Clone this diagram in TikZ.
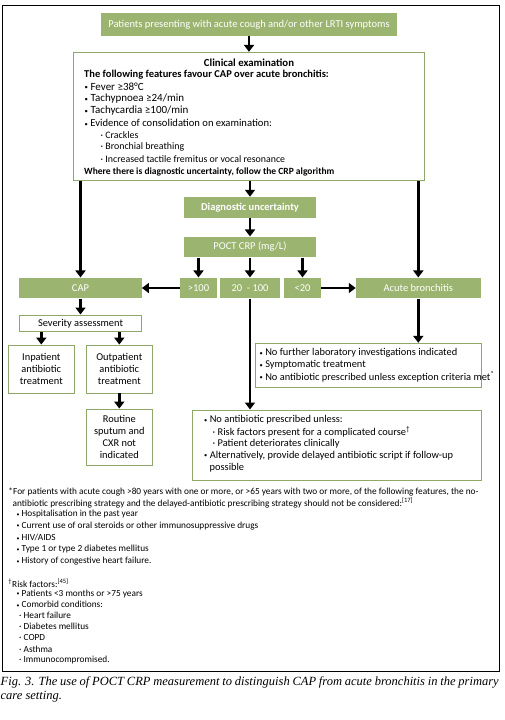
\documentclass[tikz,border=0pt]{standalone}
\usepackage{fontspec}
\setmainfont{Carlito}
\newfontfamily\capfont{Liberation Serif}
\usetikzlibrary{arrows.meta}
\definecolor{gr}{HTML}{9BB46F}
\definecolor{grb}{HTML}{8FA86A}
\newcommand{\bul}{\raisebox{0.12ex}{\scalebox{0.62}{•}}}
\newcommand{\fs}[1]{\fontsize{#1}{12.1}\selectfont}
\tikzset{
  gbox/.style={fill=gr, draw=none, text=white, inner sep=0pt, font=\fs{10.5}},
  obox/.style={draw=grb, line width=0.9pt, fill=white, inner sep=0pt, align=center, font=\fs{10.4}},
  arr/.style={line width=2.6pt, -{Triangle[width=10pt,length=7pt]}},
  txt/.style={anchor=west, inner sep=0pt, font=\fs{10.4}},
  ftxt/.style={anchor=west, inner sep=0pt, font=\fs{9.3}},
}
\begin{document}
\begin{tikzpicture}[x=1pt,y=-1pt]
\useasboundingbox (0,0) rectangle (504,720);
% outer frame
\draw[line width=0.9pt] (2.5,5) rectangle (499.5,671);

% boxes
\node[gbox, minimum width=296pt, minimum height=23.3pt] (start) at (249,24.3) {Patients presenting with acute cough and/or other LRTI symptoms};
\node[obox, minimum width=351pt, minimum height=128.4pt] (clin) at (249,116.5) {};
\node[gbox, font=\fs{10.5}\bfseries, minimum width=132pt, minimum height=20.7pt] (diag) at (250,207.3) {Diagnostic uncertainty};
\node[gbox, minimum width=132pt, minimum height=20.7pt] (poct) at (250,247) {POCT CRP (mg/L)};
\node[gbox, minimum width=122.4pt, minimum height=20.7pt] (cap) at (80.5,288) {CAP};
\node[gbox, minimum width=36.4pt, minimum height=20.7pt] (gt) at (198.5,288) {>100};
\node[gbox, minimum width=60pt, minimum height=20.7pt] (mid) at (250,288) {20 ~- 100};
\node[gbox, minimum width=37pt, minimum height=20.7pt] (lt) at (302.5,288) {<20};
\node[gbox, minimum width=124.7pt, minimum height=20.7pt] (acute) at (418.3,288) {Acute bronchitis};
\node[obox, minimum width=122.4pt, minimum height=16.7pt] (sev) at (80.5,323.3) {Severity assessment};
\node[obox, minimum width=66pt, minimum height=48pt] (inp) at (41.3,369) {Inpatient\\antibiotic\\treatment};
\node[obox, minimum width=66.7pt, minimum height=48pt] (outp) at (119.3,369) {Outpatient\\antibiotic\\treatment};
\node[obox, minimum width=66.7pt, minimum height=56pt] (rout) at (119.3,437) {Routine\\sputum and\\CXR not\\indicated};
\node[obox, minimum width=226.7pt, minimum height=44pt] (rb) at (368.3,365.3) {};
\node[obox, minimum width=289.4pt, minimum height=70.7pt] (low) at (337,445.3) {};

% clinical text
\node[inner sep=0pt, font=\fs{10.8}\bfseries] (t0) at (249,62.5) {Clinical examination};
\node[txt, font=\fs{10.5}\bfseries] (t1) at (84,74.7) {The following features favour CAP over acute bronchitis:};
\node[txt, font=\fs{11}] (t2) at (84.5,86.8) {\bul\ Fever ≥38°C};
\node[txt, font=\fs{11}] (t3) at (84.5,98.9) {\bul\ Tachypnoea ≥24/min};
\node[txt, font=\fs{11}] (t4) at (84.5,111) {\bul\ Tachycardia ≥100/min};
\node[txt, font=\fs{10.6}] (t5) at (84.5,123.1) {\bul\ Evidence of consolidation on examination:};
\node[txt, font=\fs{9.9}] (t6) at (100.5,135.2) {· Crackles};
\node[txt, font=\fs{9.9}] (t7) at (100.5,147.3) {· Bronchial breathing};
\node[txt, font=\fs{9.9}] (t8) at (100.5,159.4) {· Increased tactile fremitus or vocal resonance};
\node[txt, font=\fs{9.5}\bfseries] (t9) at (84,171.5) {Where there is diagnostic uncertainty, follow the CRP algorithm};

% right box text
\node[txt] (r1) at (259.5,353) {\bul\ No further laboratory investigations indicated};
\node[txt] (r2) at (259.5,365) {\bul\ Symptomatic treatment};
\node[txt] (r3) at (259.5,377) {\bul\ No antibiotic prescribed unless exception criteria met\textsuperscript{*}};

% lower box text
\node[txt] (l1) at (204,420) {\bul\ No antibiotic prescribed unless:};
\node[txt] (l2) at (212.5,431.8) {· Risk factors present for a complicated course\textsuperscript{†}};
\node[txt] (l3) at (212.5,443.8) {· Patient deteriorates clinically};
\node[txt] (l4) at (204,455.8) {\bul\ Alternatively, provide delayed antibiotic script if follow-up};
\node[txt] (l5) at (209.5,467.5) {possible};

% arrows
\draw[arr] (start.south) -- (start.south |- clin.north);
\draw[arr] (clin.south -| diag.north) -- (diag.north);
\draw[arr] (diag.south) -- (poct.north);
\draw[arr] (poct.south -| gt.north) -- (gt.north);
\draw[arr] (poct.south -| mid.north) -- (mid.north);
\draw[arr] (poct.south -| lt.north) -- (lt.north);
\draw[arr] (gt.west) -- (cap.east);
\draw[arr] (lt.east) -- (acute.west);
\draw[arr] (clin.south -| cap.north) -- (cap.north);
\draw[arr] (clin.south -| acute.north) -- (acute.north);
\draw[arr] (cap.south) -- (sev.north);
\draw[arr] (sev.south -| inp.north) -- (inp.north);
\draw[arr] (sev.south -| outp.north) -- (outp.north);
\draw[arr] (outp.south) -- (rout.north);
\draw[arr] (mid.south) -- (mid.south |- low.north);
\draw[arr] (acute.south) -- (acute.south |- rb.north);

% footnotes
\node[ftxt] (f1) at (8.3,491.7) {*For patients with acute cough >80 years with one or more, or >65 years with two or more, of the following features, the no-};
\node[ftxt] (f2) at (12.5,502.7) {antibiotic prescribing strategy and the delayed-antibiotic prescribing strategy should not be considered:\textsuperscript{[17]}};
\node[ftxt] (f3) at (16.5,514.3) {\bul\ Hospitalisation in the past year};
\node[ftxt] (f4) at (16.5,526) {\bul\ Current use of oral steroids or other immunosuppressive drugs};
\node[ftxt] (f5) at (16.5,537.7) {\bul\ HIV/AIDS};
\node[ftxt] (f6) at (16.5,549.4) {\bul\ Type 1 or type 2 diabetes mellitus};
\node[ftxt] (f7) at (16.5,561.1) {\bul\ History of congestive heart failure.};
\node[ftxt] (g0) at (8.3,583) {\textsuperscript{†}Risk factors:\textsuperscript{[45]}};
\node[ftxt] (g1) at (16.5,594) {\bul\ Patients <3 months or >75 years};
\node[ftxt] (g2) at (16.5,604.5) {\bul\ Comorbid conditions:};
\node[ftxt] (g3) at (19,615.3) {· Heart failure};
\node[ftxt] (g4) at (19,626.6) {· Diabetes mellitus};
\node[ftxt] (g5) at (19,637.9) {· COPD};
\node[ftxt] (g6) at (19,649.2) {· Asthma};
\node[ftxt] (g7) at (19,660.5) {· Immunocompromised.};

% caption
\node[anchor=west, inner sep=0pt, font=\capfont\itshape\fontsize{12.5}{14}\selectfont] (cap1) at (0.5,682) {\makebox[498pt][s]{Fig. 3. The use of POCT CRP measurement to distinguish CAP from acute bronchitis in the primary}};
\node[anchor=west, inner sep=0pt, font=\capfont\itshape\fontsize{12.5}{14}\selectfont] (cap2) at (0.5,697) {care setting.};
\end{tikzpicture}
\end{document}
